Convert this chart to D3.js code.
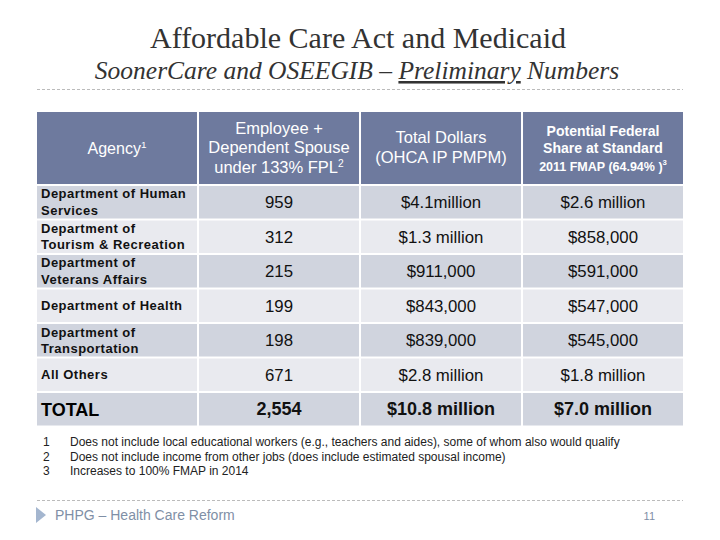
<!DOCTYPE html>
<html><head><meta charset="utf-8">
<script src="https://cdn.jsdelivr.net/npm/d3@7"></script>
<style>body{margin:0;background:#fff}svg{display:block}</style>
</head><body>
<svg id="c" width="720" height="540"></svg>
<script>
const agencies = [
  ["Department of Human", "Services"],
  ["Department of", "Tourism & Recreation"],
  ["Department of", "Veterans Affairs"],
  ["Department of Health"],
  ["Department of", "Transportation"],
  ["All Others"],
  ["TOTAL"]
];
const employees = ["959", "312", "215", "199", "198", "671", "2,554"];
const totalDollars = ["$4.1million", "$1.3 million", "$911,000", "$843,000", "$839,000", "$2.8 million", "$10.8 million"];
const federalShare = ["$2.6 million", "$858,000", "$591,000", "$547,000", "$545,000", "$1.8 million", "$7.0 million"];
const headers = [
  [["Agency", "1"]],
  [["Employee +"], ["Dependent Spouse"], ["under 133% FPL", "2"]],
  [["Total Dollars"], ["(OHCA IP PMPM)"]],
  [["Potential Federal"], ["Share at Standard"], ["2011 FMAP (64.94% )", "3"]]
];
const footnotes = [
  ["1", "Does not include local educational workers (e.g., teachers and aides), some of whom also would qualify"],
  ["2", "Does not include income from other jobs (does include estimated spousal income)"],
  ["3", "Increases to 100% FMAP in 2014"]
];
const title = "Affordable Care Act and Medicaid";
const footerText = "PHPG – Health Care Reform";
const pageNum = "11";

const svg = d3.select("#c");
const sans = "'Liberation Sans', Arial, sans-serif";
const serif = "'Liberation Serif', 'Times New Roman', serif";

// Title
svg.append("text").attr("x", 358).attr("y", 48).attr("text-anchor", "middle")
  .attr("font-family", serif).attr("font-size", 30).attr("fill", "#333")
  .text(title);
const sub = svg.append("text").attr("x", 357).attr("y", 79).attr("text-anchor", "middle")
  .attr("font-family", serif).attr("font-size", 25.5).attr("font-style", "italic").attr("fill", "#333");
sub.append("tspan").text("SoonerCare and OSEEGIB – ");
sub.append("tspan").attr("text-decoration", "underline").text("Preliminary");
sub.append("tspan").text(" Numbers");

svg.append("line").attr("x1", 37).attr("x2", 683).attr("y1", 89.5).attr("y2", 89.5)
  .attr("stroke", "#bbb").attr("stroke-width", 1).attr("stroke-dasharray", "3,2");

// Table scales
const cols = d3.range(4);
const x = d3.scaleBand().domain(cols).range([37, 683]).paddingInner(0.0125);
const rows = d3.range(agencies.length);
const y = d3.scaleBand().domain(rows).range([186, 425.5]).paddingInner(0.058);
const headerTop = 112, headerBottom = 184;

// Header cells
svg.append("g").selectAll("rect").data(cols).join("rect")
  .attr("x", d => x(d)).attr("y", headerTop).attr("width", x.bandwidth())
  .attr("height", headerBottom - headerTop).attr("fill", "#6E7A9E");

const headerFont = [16, 16.5, 16.5, 14];
const headerBold = [false, false, false, true];
headers.forEach((lines, ci) => {
  const cx = x(ci) + x.bandwidth() / 2;
  const lh = ci === 3 ? 17.5 : 19.5;
  const mid = ci === 0 ? 154 : (headerTop + headerBottom) / 2 + 5;
  const y0 = mid - (lines.length - 1) * lh / 2;
  lines.forEach((ln, li) => {
    const fs = (ci === 3 && li === 2) ? 12.5 : headerFont[ci];
    const t = svg.append("text").attr("x", cx).attr("y", y0 + li * lh)
      .attr("text-anchor", "middle").attr("font-family", sans)
      .attr("font-size", fs).attr("font-weight", headerBold[ci] ? "bold" : "normal")
      .attr("fill", "#fff");
    t.append("tspan").text(ln[0]);
    if (ln[1]) t.append("tspan").attr("font-size", fs * 0.62).attr("dy", -6).text(ln[1]);
  });
});

// Body rows
const rowFill = i => (i % 2 === 0 ? "#D0D4DE" : "#E9EAEF");
const bodyG = svg.append("g");
rows.forEach(ri => {
  cols.forEach(ci => {
    bodyG.append("rect").attr("x", x(ci)).attr("y", y(ri))
      .attr("width", x.bandwidth()).attr("height", y.bandwidth()).attr("fill", rowFill(ri));
  });
});

const isTotal = ri => ri === agencies.length - 1;
// Agency names
rows.forEach(ri => {
  const lines = agencies[ri];
  const cy = y(ri) + y.bandwidth() / 2;
  if (isTotal(ri)) {
    svg.append("text").attr("x", 41).attr("y", cy + 6.5).attr("font-family", sans)
      .attr("font-size", 18).attr("font-weight", "bold").attr("fill", "#000").text(lines[0]);
    return;
  }
  const lh = 16.5;
  const y0 = cy + 4.5 - (lines.length - 1) * lh / 2;
  lines.forEach((ln, li) => {
    svg.append("text").attr("x", 41).attr("y", y0 + li * lh).attr("font-family", sans)
      .attr("font-size", 13).attr("letter-spacing", 0.5).attr("font-weight", "bold").attr("fill", "#111").text(ln);
  });
});

// Numeric columns
const valueCols = [employees, totalDollars, federalShare];
valueCols.forEach((arr, k) => {
  const ci = k + 1;
  svg.append("g").selectAll("text").data(arr).join("text")
    .attr("x", x(ci) + x.bandwidth() / 2)
    .attr("y", (d, i) => y(i) + y.bandwidth() / 2 + 6)
    .attr("text-anchor", "middle").attr("font-family", sans)
    .attr("font-size", (d, i) => isTotal(i) ? 18 : 16.8)
    .attr("font-weight", (d, i) => isTotal(i) ? "bold" : "normal")
    .attr("fill", "#111").text(d => d);
});

// Footnotes
footnotes.forEach((f, i) => {
  const yy = 446 + i * 14.5;
  svg.append("text").attr("x", 43).attr("y", yy).attr("font-family", sans)
    .attr("font-size", 12).attr("fill", "#222").text(f[0]);
  svg.append("text").attr("x", 70).attr("y", yy).attr("font-family", sans)
    .attr("font-size", 12).attr("fill", "#222").text(f[1]);
});

// Footer
svg.append("line").attr("x1", 37).attr("x2", 683).attr("y1", 500.5).attr("y2", 500.5)
  .attr("stroke", "#bbb").attr("stroke-width", 1).attr("stroke-dasharray", "3,2");
svg.append("path").attr("d", "M36,507 L46,515 L36,523 Z").attr("fill", "#A4B6CF");
svg.append("text").attr("x", 55).attr("y", 520).attr("font-family", sans)
  .attr("font-size", 14).attr("fill", "#7F8FA6").text(footerText);
svg.append("text").attr("x", 655).attr("y", 520).attr("text-anchor", "end").attr("font-family", sans)
  .attr("font-size", 11).attr("fill", "#7F8FA6").text(pageNum);
</script>
</body></html>
